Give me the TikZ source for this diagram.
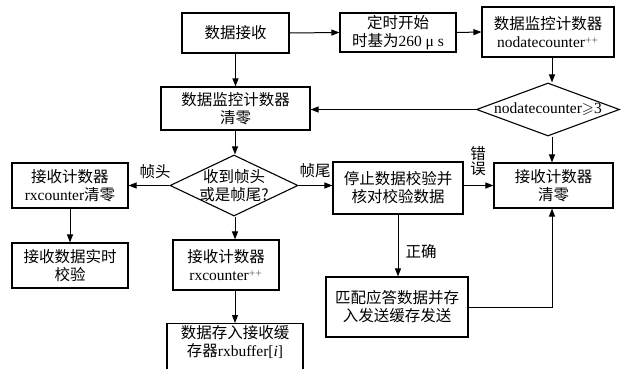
\documentclass[tikz,border=0pt]{standalone}
\usepackage{fontspec}
\usepackage{amssymb}
\setmainfont{Liberation Serif}
\newfontfamily\cjk{Noto Sans CJK SC}
\newcommand\zh[1]{{\cjk #1}}
\usetikzlibrary{arrows.meta,shapes.geometric}
\tikzset{
  box/.style={draw, line width=1.1pt, minimum width=#1, inner sep=0pt, align=center},
  dia/.style={draw, diamond, line width=1.1pt, inner sep=0pt, align=center},
  arr/.style={line width=1pt, -{Triangle[length=8pt,width=6pt]}},
  lab/.style={inner sep=0pt, align=center}
}
\begin{document}
\begin{tikzpicture}[x=1pt,y=-1pt, font=\fontsize{15.5}{18}\selectfont]
\useasboundingbox (0,0) rectangle (622,369);
\node[box=107pt, minimum height=40pt] (recv) at (235.5,33) {\zh{数据接收}};
\node[box=116pt, minimum height=39pt] (timer) at (398,32.5) {\zh{定时开始}\\\zh{时基为}260 μ s};
\node[box=132pt, minimum height=50pt] (ndc) at (548,32) {\zh{数据监控计数器}\\nodatecounter$^{\scriptscriptstyle ++}$};
\node[box=149pt, minimum height=43pt] (clr1) at (235.5,108.5) {\zh{数据监控计数器}\\\zh{清零}};
\node[dia, minimum width=143pt, minimum height=53pt] (dia1) at (548,109.5) {};
\node[lab] at (548,109.5) {nodatecounter$\geqslant$3};
\node[dia, minimum width=128pt, minimum height=61pt] (dia2) at (234,185.5) {};
\node[lab] at (234,185.5) {\zh{收到帧头}\\\zh{或是帧尾?}};
\node[box=116pt, minimum height=45pt] (rxclr) at (70,185.5) {\zh{接收计数器}\\rxcounter\zh{清零}};
\node[box=130pt, minimum height=52pt] (stop) at (398,188) {\zh{停止数据校验并}\\\zh{核对校验数据}};
\node[box=119pt, minimum height=45pt] (rclr) at (553.5,185.5) {\zh{接收计数器}\\\zh{清零}};
\node[box=116pt, minimum height=45pt] (check) at (70,265.5) {\zh{接收数据实时}\\\zh{校验}};
\node[box=106pt, minimum height=50pt] (rxinc) at (226,265) {\zh{接收计数器}\\rxcounter$^{\scriptscriptstyle ++}$};
\node[box=142pt, minimum height=60pt] (match) at (397,307) {\zh{匹配应答数据并存}\\\zh{入发送缓存发送}};
\node[box=136pt, minimum height=56pt, anchor=north] (buf) at (235,323) {\zh{数据存入接收缓}\\\zh{存器}rxbuffer[\textit{i}]\\[4pt]};
\coordinate (ax) at (235,0);
\coordinate (rx) at (552,0);
\coordinate (corner) at (rx |- match.east);

\draw[arr] (recv) -- (clr1);
\draw[arr] (recv.east) -- (timer.west);
\draw[arr] (timer.east) -- (ndc.west);
\draw[arr] (ndc.south -| rx) -- (dia1.north -| rx);
\draw[arr] (dia1.west) -- (clr1.east |- dia1.west);
\draw[arr] (dia1.south -| rx) -- (rclr.north -| rx);
\draw[arr] (clr1.south -| ax) -- (dia2.north -| ax);
\draw[arr] (dia2.west) -- (rxclr.east |- dia2.west);
\draw[arr] (dia2.east) -- (stop.west |- dia2.east);
\draw[arr] (dia2.south -| ax) -- (rxinc.north -| ax);
\draw[arr] (rxclr) -- (check);
\draw[arr] (rxinc.south -| ax) -- (buf.north -| ax);
\draw[arr] (stop.east |- rclr.west) -- (rclr.west);
\draw[arr] (stop.south) -- (match.north -| stop.south);
\draw[arr] (match.east) -- (corner) -- (rclr.south -| rx);

\node[lab] (l1) at (155,172) {\zh{帧头}};
\node[lab] (l2) at (315,171) {\zh{帧尾}};
\node[lab, font=\fontsize{15.5}{15.5}\selectfont] (l3) at (478,161) {\zh{错}\\\zh{误}};
\node[lab] (l4) at (421,252) {\zh{正确}};
\end{tikzpicture}
\end{document}
